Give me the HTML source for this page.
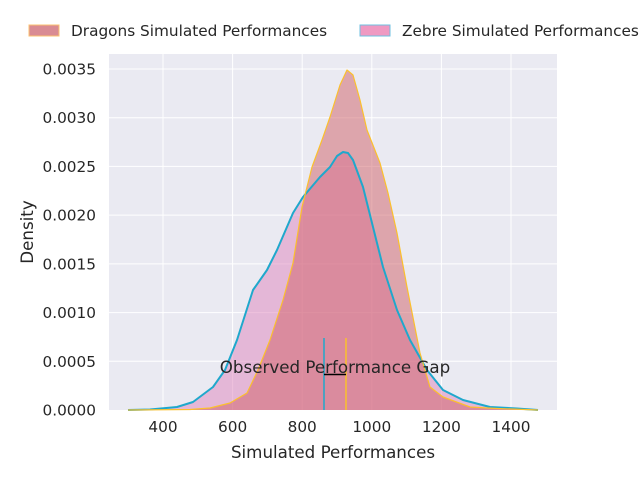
<!DOCTYPE html>
<html><head><style>body{margin:0;background:#fff}svg{display:block;font-family:"DejaVu Sans","Liberation Sans",sans-serif}</style></head><body>
<svg width="640" height="480" xmlns="http://www.w3.org/2000/svg">
<rect x="109" y="54" width="448" height="356" fill="#eaeaf2"/>
<g stroke="#fff" stroke-width="1">
<line x1="163" y1="54" x2="163" y2="410"/><line x1="232.6" y1="54" x2="232.6" y2="410"/><line x1="302.2" y1="54" x2="302.2" y2="410"/><line x1="371.8" y1="54" x2="371.8" y2="410"/><line x1="441.4" y1="54" x2="441.4" y2="410"/><line x1="511" y1="54" x2="511" y2="410"/>
<line x1="109" y1="361.3" x2="557" y2="361.3"/><line x1="109" y1="312.6" x2="557" y2="312.6"/><line x1="109" y1="263.9" x2="557" y2="263.9"/><line x1="109" y1="215.1" x2="557" y2="215.1"/><line x1="109" y1="166.4" x2="557" y2="166.4"/><line x1="109" y1="117.7" x2="557" y2="117.7"/><line x1="109" y1="69" x2="557" y2="69"/>
</g>
<path id="b" d="M128,410 L150,409.5 L177,407 L193,402 L213,387 L225,370 L237,340 L253,290 L267,270 L277,250 L293,213 L303,197 L320,177 L330,167 L337,156 L343,152 L348,153 L353,160 L363,187 L373,227 L383,267 L397,310 L410,340 L427,370 L443,390 L463,400 L490,407 L517,408.5 L538,410 Z" fill="rgb(221,132,187)" fill-opacity="0.5"/>
<path d="M128,410 L190,409.5 L210,408 L230,403 L247,393 L258,370 L270,340 L283,300 L293,263 L302,207 L312,167 L322,140 L330,117 L340,85 L347,70 L353,75 L360,100 L367,130 L380,163 L388,193 L397,233 L407,287 L420,353 L430,387 L443,397 L470,407 L497,408.5 L538,410 Z" fill="rgb(207,95,102)" fill-opacity="0.5"/>
<path d="M128,410 L150,409.5 L177,407 L193,402 L213,387 L225,370 L237,340 L253,290 L267,270 L277,250 L293,213 L303,197 L320,177 L330,167 L337,156 L343,152 L348,153 L353,160 L363,187 L373,227 L383,267 L397,310 L410,340 L427,370 L443,390 L463,400 L490,407 L517,408.5 L538,410" fill="none" stroke="#1fa8cc" stroke-width="2" stroke-linejoin="round"/>
<path d="M128,410 L190,409.5 L210,408 L230,403 L247,393 L258,370 L270,340 L283,300 L293,263 L302,207 L312,167 L322,140 L330,117 L340,85 L347,70 L353,75 L360,100 L367,130 L380,163 L388,193 L397,233 L407,287 L420,353 L430,387 L443,397 L470,407 L497,408.5 L538,410" fill="none" stroke="#fbc02d" stroke-width="1.2" stroke-linejoin="round"/>
<line x1="324" y1="338" x2="324" y2="410" stroke="#1fa8cc" stroke-width="1.5"/>
<line x1="346" y1="338" x2="346" y2="410" stroke="#fbc02d" stroke-width="1.5"/>
<line x1="324" y1="374.5" x2="346" y2="374.5" stroke="#000" stroke-width="1.5"/>
<text x="335" y="373" font-size="16.7" fill="#262626" text-anchor="middle">Observed Performance Gap</text>
<g font-size="15.3" fill="#262626" text-anchor="end">
<text x="96" y="415.5">0.0000</text><text x="96" y="366.8">0.0005</text><text x="96" y="318">0.0010</text><text x="96" y="269.4">0.0015</text><text x="96" y="220.6">0.0020</text><text x="96" y="172">0.0025</text><text x="96" y="123.2">0.0030</text><text x="96" y="74.5">0.0035</text>
</g>
<g font-size="15.3" fill="#262626" text-anchor="middle">
<text x="163" y="432">400</text><text x="232.6" y="432">600</text><text x="302.2" y="432">800</text><text x="371.8" y="432">1000</text><text x="441.4" y="432">1200</text><text x="511" y="432">1400</text>
</g>
<text x="333" y="458" font-size="16.7" fill="#262626" text-anchor="middle">Simulated Performances</text>
<text transform="translate(33,232) rotate(-90)" font-size="16.7" fill="#262626" text-anchor="middle">Density</text>
<rect x="29" y="25" width="30" height="11" fill="#d98b93" stroke="#fbc070" stroke-width="1"/>
<text x="71" y="36" font-size="15.3" fill="#262626">Dragons Simulated Performances</text>
<rect x="360" y="25" width="30" height="11" fill="#ef99c2" stroke="#6fc0e0" stroke-width="1"/>
<text x="402" y="36" font-size="15.3" fill="#262626">Zebre Simulated Performances</text>
</svg>
</body></html>
